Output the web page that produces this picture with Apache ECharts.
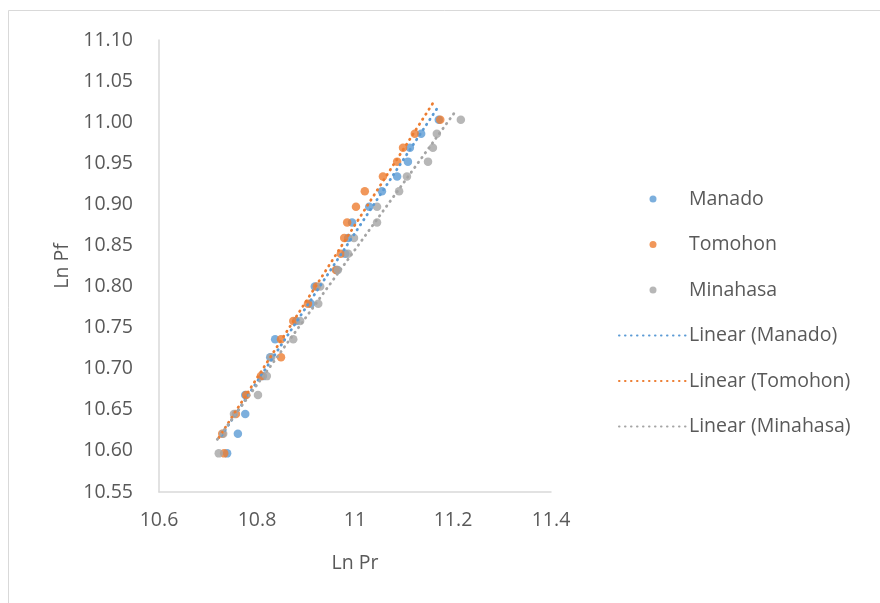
<!DOCTYPE html>
<html>
<head>
<meta charset="utf-8">
<script src="https://cdn.jsdelivr.net/npm/echarts@6/dist/echarts.min.js"></script>
<style>
html,body{margin:0;padding:0;background:#fff;}
#c{width:880px;height:603px;}
</style>
</head>
<body>
<div id="c"></div>
<script>
// Ln Pf levels (y) shared by all three regions
var lnPf = [10.597, 10.621, 10.645, 10.668, 10.691, 10.714, 10.736, 10.758, 10.779, 10.800, 10.820,
            10.840, 10.859, 10.878, 10.897, 10.916, 10.934, 10.952, 10.969, 10.986, 11.003];
// Ln Pr values (x) per region
var manado   = [10.739, 10.761, 10.776, 10.776, 10.812, 10.827, 10.837, 10.880, 10.910, 10.918, 10.963,
                10.980, 10.986, 10.994, 11.029, 11.055, 11.086, 11.108, 11.112, 11.135, 11.171];
var tomohon  = [10.733, 10.729, 10.757, 10.778, 10.808, 10.849, 10.849, 10.874, 10.904, 10.922, 10.961,
                10.971, 10.978, 10.984, 11.002, 11.020, 11.057, 11.086, 11.098, 11.122, 11.174];
var minahasa = [10.722, 10.731, 10.753, 10.802, 10.820, 10.829, 10.874, 10.888, 10.925, 10.929, 10.965,
                10.986, 10.998, 11.045, 11.045, 11.090, 11.106, 11.149, 11.159, 11.167, 11.216];
// Linear trendline end points [Ln Pr, Ln Pf]
var trendManado   = [[10.728, 10.619], [11.169, 11.018]];
var trendTomohon  = [[10.722, 10.616], [11.161, 11.025]];
var trendMinahasa = [[10.719, 10.614], [11.206, 11.014]];
var xTicks = [10.6, 10.8, 11, 11.2, 11.4];
var yMin = 10.55, yMax = 11.10, yStep = 0.05;
var names = ['Manado', 'Tomohon', 'Minahasa'];
var colors = ['#5B9BD5', '#ED7D31', '#A5A5A5'];

function pairs(xs) { return xs.map(function (x, i) { return [x, lnPf[i]]; }); }
var seriesX = [manado, tomohon, minahasa];
var trends = [trendManado, trendTomohon, trendMinahasa];
var FONT = 'Open Sans';
var series = [];
seriesX.forEach(function (xs, k) {
  series.push({
    name: names[k], type: 'scatter', data: pairs(xs), symbol: 'circle', symbolSize: 8.5,
    itemStyle: { color: colors[k] }, z: 2 + k
  });
});
trends.forEach(function (t, k) {
  series.push({
    name: 'Linear (' + names[k] + ')', type: 'line', data: t, symbol: 'none',
    itemStyle: { color: 'rgba(0,0,0,0)' },
    lineStyle: { color: colors[k], width: 2.8, type: [0.5, 5.5], cap: 'round' }, z: 6 + k
  });
});

var chart = echarts.init(document.getElementById('c'), null, { renderer: 'canvas' });
chart.setOption({
  animation: false,
  backgroundColor: '#fff',
  grid: { left: 159, top: 40, width: 392, height: 452, containLabel: false },
  graphic: [{
    type: 'rect', shape: { x: 8.5, y: 10.5, width: 1000, height: 1000 },
    style: { fill: 'none', stroke: '#d9d9d9', lineWidth: 1 }, silent: true, z: -1
  }],
  xAxis: {
    type: 'value', min: xTicks[0], max: xTicks[xTicks.length - 1], interval: 0.2,
    name: 'Ln Pr', nameLocation: 'middle', nameGap: 61,
    nameTextStyle: { color: '#595959', fontSize: 19.5, fontFamily: FONT },
    axisLine: { show: true, lineStyle: { color: '#d9d9d9', width: 1.5 } },
    axisTick: { show: false }, splitLine: { show: false },
    axisLabel: { color: '#595959', fontSize: 19.5, fontFamily: FONT, margin: 18,
      formatter: function (v) { return String(Math.round(v * 10) / 10); } }
  },
  yAxis: {
    type: 'value', min: yMin, max: yMax, interval: yStep,
    name: 'Ln Pf', nameLocation: 'middle', nameGap: 87, nameRotate: 90,
    nameTextStyle: { color: '#595959', fontSize: 19.5, fontFamily: FONT },
    axisLine: { show: true, lineStyle: { color: '#d9d9d9', width: 1.5 } },
    axisTick: { show: false }, splitLine: { show: false },
    axisLabel: { color: '#595959', fontSize: 19.5, fontFamily: FONT, margin: 26,
      formatter: function (v) { return v.toFixed(2); } }
  },
  legend: {
    orient: 'vertical', left: 613, top: 184, itemWidth: 68, itemHeight: 7, itemGap: 25.5,
    itemStyle: { borderWidth: 0 },
    data: ['Manado', 'Tomohon', 'Minahasa', 'Linear (Manado)', 'Linear (Tomohon)', 'Linear (Minahasa)'],
    textStyle: { color: '#595959', fontSize: 19.5, fontFamily: FONT, lineHeight: 20, padding: [0, 0, 0, -3] },
    selectedMode: false
  },
  series: series
});
</script>
</body>
</html>
